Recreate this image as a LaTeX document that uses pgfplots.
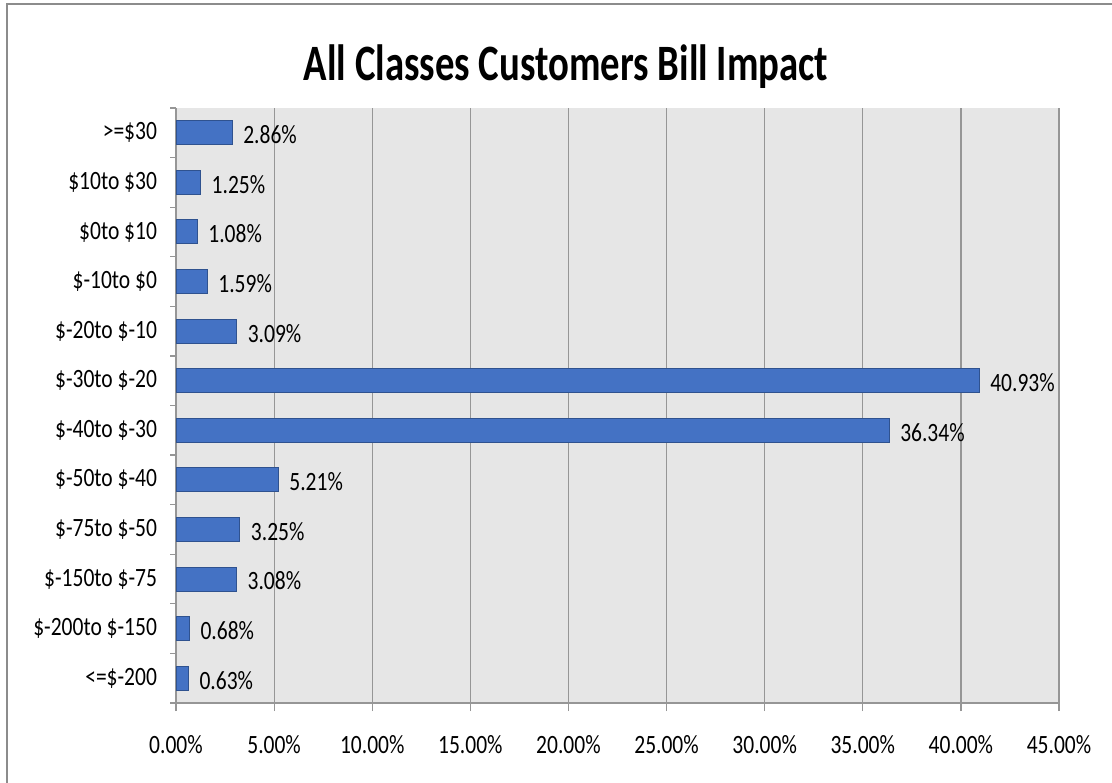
\documentclass[border=0pt]{standalone}
\usepackage{pgfplots}
\pgfplotsset{compat=1.18}
\usepackage{fontspec}
\setmainfont{Carlito}[FakeStretch=0.815]
\newfontfamily\titlefont{Carlito}[FakeStretch=0.76]
\definecolor{barblue}{RGB}{68,114,196}
\definecolor{baredge}{RGB}{47,82,143}
\definecolor{bggray}{RGB}{230,230,230}
\definecolor{gridgray}{RGB}{150,150,150}
\definecolor{framegray}{RGB}{140,140,140}
\begin{document}
\begin{tikzpicture}
\useasboundingbox (0,0) rectangle (556pt,-391pt);
\fill[white] (0,0) rectangle (556pt,-391pt);
\draw[framegray, line width=0.7pt] (3.5pt,-2pt) rectangle (600pt,-400pt);
\node[anchor=base, font=\titlefont\bfseries\fontsize{25.5}{30}\selectfont] at (283pt,-40pt) {All Classes Customers Bill Impact};
\begin{axis}[
  at={(88pt,-351.5pt)}, anchor=south west,
  scale only axis, width=441.5pt, height=297.5pt,
  xbar, bar width=12pt,
  xmin=0, xmax=45, ymin=-0.5, ymax=11.5,
  axis background/.style={fill=bggray},
  axis x line*=bottom, axis y line*=left,
  axis line style={gridgray, line width=0.6pt, -},
  xtick={0,5,...,45},
  xmajorgrids, major grid style={gridgray, line width=0.6pt},
  tick align=outside,
  major tick length=4pt,
  minor tick length=3pt,
  every tick/.style={gridgray, line width=0.6pt},
  every major y tick/.style={draw=none},
  ytick={0,...,11},
  minor ytick={-0.5,0.5,...,11.5},
  yticklabels={<=\$-200,\$-200to \$-150,\$-150to \$-75,\$-75to \$-50,\$-50to \$-40,\$-40to \$-30,\$-30to \$-20,\$-20to \$-10,\$-10to \$0,\$0to \$10,\$10to \$30,>=\$30},
  /pgf/number format/assume math mode=true,
  xticklabel={\pgfmathprintnumber[fixed,fixed zerofill,precision=2]{\tick}\%},
  tick label style={font=\fontsize{13.2}{16}\selectfont, text=black},
  xticklabel style={yshift=-8.5pt},
  yticklabel style={xshift=-2pt},
  point meta=x,
  nodes near coords={\pgfmathprintnumber[fixed,fixed zerofill,precision=2]{\pgfplotspointmeta}\%},
  every node near coord/.append style={font=\fontsize{13.2}{16}\selectfont, text=black, anchor=west, xshift=2pt, yshift=-1pt},
]
\addplot[fill=barblue, draw=baredge, line width=0.5pt] coordinates {
(0.63,0) (0.68,1) (3.08,2) (3.25,3) (5.21,4) (36.34,5) (40.93,6) (3.09,7) (1.59,8) (1.08,9) (1.25,10) (2.86,11)
};
\end{axis}
\end{tikzpicture}
\end{document}
